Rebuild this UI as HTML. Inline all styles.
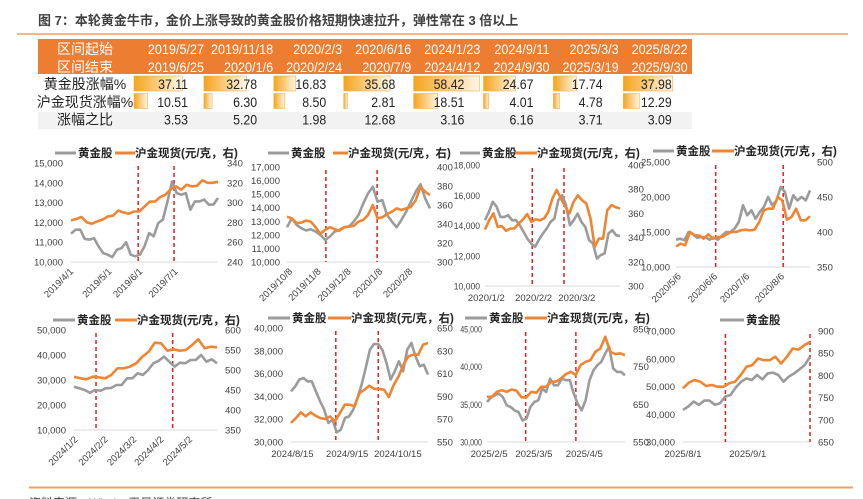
<!DOCTYPE html>
<html><head><meta charset="utf-8">
<style>
html,body{margin:0;padding:0;background:#fff;}
svg{display:block;font-family:"Liberation Sans","Noto Sans CJK SC",sans-serif;}
.tk{font-size:9.5px;fill:#404040;}
.lg{font-size:11.5px;font-weight:bold;fill:#222;}
.tb{font-size:14px;fill:#222;}
.th{font-size:14px;fill:#fff;}
</style></head>
<body>
<svg id="root" width="863" height="499" viewBox="0 0 863 499">
<defs>
<linearGradient id="barg" x1="0" x2="1" y1="0" y2="0">
<stop offset="0" stop-color="#f5a41c"/><stop offset="1" stop-color="#fff7e8"/>
</linearGradient>
</defs>
<text x="38" y="25" font-size="13" font-weight="bold" fill="#404040">图 7：本轮黄金牛市，金价上涨导致的黄金股价格短期快速拉升，弹性常在 3 倍以上</text>
<line x1="17" y1="34" x2="848" y2="34" stroke="#f2a05c" stroke-width="1.5"/>
<g id="table"></g>
<g id="charts"></g>
<line x1="29" y1="487.5" x2="853" y2="487.5" stroke="#f2a05c" stroke-width="2"/>
<text x="29" y="507" font-size="12" fill="#404040">资料来源：Wind，天风证券研究所</text>
</svg>
<script>
// ---------- table data ----------
const tStart = ["2019/5/27","2019/11/18","2020/2/3","2020/6/16","2024/1/23","2024/9/11","2025/3/3","2025/8/22"];
const tEnd = ["2019/6/25","2020/1/6","2020/2/24","2020/7/9","2024/4/12","2024/9/30","2025/3/19","2025/9/30"];
const tStock = [37.11,32.78,16.83,35.68,58.42,24.67,17.74,37.98];
const tGold = [10.51,6.30,8.50,2.81,18.51,4.01,4.78,12.29];
const tRatio = [3.53,5.20,1.98,12.68,3.16,6.16,3.71,3.09];

// ---------- chart data ----------
const c1Gray=[11430,11630,11630,11160,11130,11200,10790,10450,10370,10250,10620,10700,11000,10370,10290,10370,10790,11460,11300,11970,12140,13060,14070,13480,13400,13480,12640,13060,13060,13150,12900,12900,13230];
const c1Gold=[282,283.4,285.5,280,278.7,281,282.8,286,286.8,292,290,288.8,291,291,296,301,301,305.7,308,313.7,316.4,313,318,316.4,317,322.5,320,320,321];
const c1Vlines=[0.457,0.701];
const c1XLabels=["2019/4/1","2019/5/1","2019/6/1","2019/7/1"];
const c1XPos=[0.0,0.26,0.47,0.71];
const c1LeftTicks=[10000,11000,12000,13000,14000,15000];
const c1RightTicks=[240,260,280,300,320,340];

const c2Gray=[12560,13220,12730,12490,12320,12410,12240,12000,11630,11880,12240,12370,12560,12610,12980,13460,14320,15050,15540,14440,14560,13460,12980,12560,13100,13710,14440,15170,15730,14680,13950];
const c2Gold=[347.7,346,340.8,341.5,343.6,342.5,336.6,329.6,333.8,336.6,334.5,333,336.6,337.3,338,342.5,344.3,349.5,360,346,347,350.5,353,356.4,354.7,356.4,358,365,379,373.9,370.4];
const c2Vlines=[0.272,0.63];
const c2XLabels=["2019/10/8","2019/11/8","2019/12/8","2020/1/8","2020/2/8"];
const c2XPos=[0.02,0.22,0.43,0.65,0.86];
const c2LeftTicks=[10000,11000,12000,13000,14000,15000,16000,17000];
const c2RightTicks=[300,320,340,360,380,400];

const c3Gray=[14350,14900,15570,15240,14570,14570,14680,14350,14350,14020,13580,13130,12800,12590,13070,13470,13800,14240,14460,15680,16010,15350,14020,14350,14790,14240,13910,13030,12810,11810,12040,12150,13470,13690,13360,13300];
const c3Gold=[346.7,354.4,360,348.9,349.4,345.6,347.5,347.5,351.7,355,359.4,353,355,354.4,355.8,361.3,372.4,379.3,372.4,365.5,360,369.6,375,371,368.2,355.8,332.3,339.2,339.2,362.7,366.9,365,364.1];
const c3Vlines=[0.35,0.585];
const c3XLabels=["2020/1/2","2020/2/2","2020/3/2"];
const c3XPos=[0.01,0.36,0.68];
const c3LeftTicks=[10000,12000,14000,16000,18000];
const c3RightTicks=[300,320,340,360,380,400];

const c4Gray=[13900,14050,13810,15000,14760,14190,14290,14290,13900,14190,13900,14520,15000,15000,15480,16430,18810,17380,18100,16900,17860,18570,20000,18810,19520,21430,20710,18330,20240,19520,20000,19520,20950];
const c4Gold=[379.5,383.3,381,400,395.2,395.2,390.5,396.7,390.5,392.9,392.9,396.7,400,400,402.4,403.3,402.4,403.3,414.3,431,433.3,433.3,450,445.2,417.6,421.4,433.3,416.7,416.7,422.4];
const c4Vlines=[0.296,0.80];
const c4XLabels=["2020/5/6","2020/6/6","2020/7/6","2020/8/6"];
const c4XPos=[0.02,0.29,0.53,0.79];
const c4LeftTicks=[10000,15000,20000,25000];
const c4RightTicks=[350,400,450,500];

const c5Gray=[27330,26670,26000,24930,26000,25730,26670,26800,28000,28000,30670,30670,32670,32000,34000,36670,37730,39330,37330,35330,36930,36670,38000,38000,40000,37330,38270,36670];
const c5Gold=[483.3,479.2,476.7,483.3,481.7,479.2,487.5,504.2,504.2,508.3,516.7,533.3,545.8,568.3,566.7,548.3,551.7,548.3,550,562.5,576.7,554.2,558.3,556.7];
const c5Vlines=[0.154,0.69];
const c5XLabels=["2024/1/2","2024/2/2","2024/3/2","2024/4/2","2024/5/2"];
const c5XPos=[0.01,0.22,0.42,0.61,0.81];
const c5LeftTicks=[10000,20000,30000,40000,50000];
const c5RightTicks=[350,400,450,500,550,600];

const c6Gray=[34440,34880,35470,35610,35320,35320,34440,33570,32840,31670,31960,30850,31080,32110,32250,32840,33860,35030,36490,38100,38600,38600,38100,36930,35470,36200,37080,36200,38100,38680,37510,36640,36780,35910];
const c6Gold=[566.7,571,576,572.5,576,573.1,571,570.2,572.5,568.1,575.4,582.7,582.7,581.3,593,595.9,599.4,596.5,596.5,595.9,589.5,600.3,607.6,617.8,625.1,626.6,626.6,635.4,636.8];
const c6Vlines=[0.327,0.637];
const c6XLabels=["2024/8/15","2024/9/15","2024/10/15"];
const c6XPos=[0.01,0.41,0.78];
const c6LeftTicks=[30000,32000,34000,36000,38000,40000];
const c6RightTicks=[550,570,590,610,630,650];

const c7Gray=[35310,35890,36200,36420,35980,34870,34640,34200,33980,32870,33090,34640,35310,35530,37090,36640,38420,37530,37530,38420,38200,38200,36420,35090,34200,35530,38200,39530,40200,40640,41760,42640,39760,39310,39310,38870];
const c7Gold=[669.9,669.9,683.2,687.6,683.2,689.4,685.9,668.6,668.6,683.2,680.5,696.5,696.5,710,710,718.7,730.2,736.4,727.5,754.2,763,767.5,789.7,798.5,829.6,789.7,783.5,785.2,780.8];
const c7Vlines=[0.28,0.644];
const c7XLabels=["2025/2/5","2025/3/5","2025/4/5"];
const c7XPos=[0.015,0.34,0.705];
const c7LeftTicks=[30000,35000,40000,45000];
const c7RightTicks=[550,650,750,850];

const c8Gray=[41580,42780,44570,43390,44930,44930,43390,43990,46360,46960,49700,51730,52930,52330,54130,52570,54730,54960,54130,51730,53530,54730,56150,57700,60690];
const c8Gold=[770.9,783.6,789.6,785.8,776.1,778.4,774.6,774.6,782.1,785.8,800.7,819.4,823.1,838.1,834.3,834.3,841.8,826.9,841.8,860.4,858.2,867.9,875.4];
const c8Vlines=[0.334,1.0];
const c8XLabels=["2025/8/1","2025/9/1"];
const c8XPos=[0.0,0.51];
const c8LeftTicks=[30000,40000,50000,60000,70000];
const c8RightTicks=[650,700,750,800,850,900];

const NS="http://www.w3.org/2000/svg";
function mk(tag,attrs,parent){const e=document.createElementNS(NS,tag);for(const k in attrs)e.setAttribute(k,attrs[k]);parent.appendChild(e);return e;}
function fmt(v){return v>=1000?v.toLocaleString("en-US"):String(v);}
function squeeze(t,f){const w=t.getComputedTextLength();if(w>0){t.setAttribute("textLength",(w*f).toFixed(1));t.setAttribute("lengthAdjust","spacingAndGlyphs");}}

// ---------- table ----------
const tbl=document.getElementById("table");
const colX0=134, colW=69.9, txtR0=204, txtStep=69.1;
let hdr=mk("rect",{x:38,y:39,width:654,height:35,fill:"#ed7d31"},tbl);


let r3=mk("rect",{x:38,y:112,width:654,height:17,fill:"#f2f2f2"},tbl);


const rowLabels=[["区间起始",54,"th"],["区间结束",72,"th"],["黄金股涨幅%",89,"tb"],["沪金现货涨幅%",107,"tb"],["涨幅之比",124.5,"tb"]];
rowLabels.forEach(r=>{const t=mk("text",{x:85,y:r[1],"text-anchor":"middle",class:r[2],"font-size":"13.5"},tbl);t.textContent=r[0];

});
function barCell(v,i,y){const w=Math.min(66,Math.max(3,v*1.3));
const b=mk("rect",{x:colX0+i*colW,y:y,width:w,height:15,fill:"url(#barg)",stroke:"#f5b04a","stroke-width":0.6},tbl);

}
for(let i=0;i<8;i++){
  const rx=txtR0+i*txtStep;
  let t=mk("text",{x:rx,y:54,"text-anchor":"end",class:"th"},tbl);t.textContent=tStart[i];
  
  
  squeeze(t,0.9);
  t=mk("text",{x:rx,y:72,"text-anchor":"end",class:"th"},tbl);t.textContent=tEnd[i];
  
  
  squeeze(t,0.9);
  barCell(tStock[i],i,76);barCell(tGold[i],i,93.5);
  const vals=[[tStock[i],89,'stock-gain'],[tGold[i],107,'gold-gain'],[tRatio[i],124.5,'gain-ratio']];
  vals.forEach(v=>{const s=v[0].toFixed(2);
    const tt=mk("text",{x:rx-16,y:v[1],"text-anchor":"end",class:"tb"},tbl);tt.textContent=s;
    
    
    squeeze(tt,0.88);});
}

// ---------- charts ----------
const charts=[
 {gray:c1Gray,gold:c1Gold,vl:c1Vlines,xl:c1XLabels,xp:c1XPos,lt:c1LeftTicks,rt:c1RightTicks,x0:71,x1:218,yT:163,yB:262,lx:63,rx:227,rot:true,leg:[55,78,115,135],ly:153,ls:1},
 {gray:c2Gray,gold:c2Gold,vl:c2Vlines,xl:c2XLabels,xp:c2XPos,lt:c2LeftTicks,rt:c2RightTicks,x0:287,x1:430,yT:167,yB:262,lx:280,rx:437,rot:true,leg:[268,291,333,348],ly:153,ls:1},
 {gray:c3Gray,gold:c3Gold,vl:c3Vlines,xl:c3XLabels,xp:c3XPos,lt:c3LeftTicks,rt:c3RightTicks,x0:485,x1:620,yT:165,yB:286,lx:480,rx:628,rot:false,leg:[460,482,515,537],ly:153,ls:0.9},
 {gray:c4Gray,gold:c4Gold,vl:c4Vlines,xl:c4XLabels,xp:c4XPos,lt:c4LeftTicks,rt:c4RightTicks,x0:676,x1:810,yT:162,yB:267,lx:670,rx:817,rot:true,leg:[653,676,712,734],ly:151,ls:1},
 {gray:c5Gray,gold:c5Gold,vl:c5Vlines,xl:c5XLabels,xp:c5XPos,lt:c5LeftTicks,rt:c5RightTicks,x0:74,x1:217,yT:330,yB:430,lx:66,rx:225,rot:true,leg:[53,77,115,137],ly:320,ls:1},
 {gray:c6Gray,gold:c6Gold,vl:c6Vlines,xl:c6XLabels,xp:c6XPos,lt:c6LeftTicks,rt:c6RightTicks,x0:291,x1:428,yT:328,yB:442,lx:283,rx:437,rot:false,leg:[268,292,328,351],ly:318,ls:1},
 {gray:c7Gray,gold:c7Gold,vl:c7Vlines,xl:c7XLabels,xp:c7XPos,lt:c7LeftTicks,rt:c7RightTicks,x0:487,x1:625,yT:329,yB:442,lx:482,rx:633,rot:false,leg:[465,489,525,547],ly:318,ls:0.75},
 {gray:c8Gray,gold:c8Gold,vl:c8Vlines,xl:c8XLabels,xp:c8XPos,lt:c8LeftTicks,rt:c8RightTicks,x0:683,x1:810,yT:331,yB:442,lx:675,rx:818,rot:false,leg:[720,746,null,null],ly:320,ls:1}
];
const root=document.getElementById("charts");
charts.forEach((c,ci)=>{
  const g=mk("g",{},root);
  
  
  const lmin=c.lt[0],lmax=c.lt[c.lt.length-1],rmin=c.rt[0],rmax=c.rt[c.rt.length-1];
  const yL=v=>c.yB-(v-lmin)/(lmax-lmin)*(c.yB-c.yT);
  const yR=v=>c.yB-(v-rmin)/(rmax-rmin)*(c.yB-c.yT);
  const xF=f=>c.x0+f*(c.x1-c.x0);
  const xI=(i,n)=>xF(i/(n-1));
  let ax=mk("line",{x1:c.x0,x2:c.x1,y1:c.yB,y2:c.yB,stroke:"#d9d9d9","stroke-width":1},g);
  
  
  c.lt.forEach(v=>{const t=mk("text",{x:c.lx,y:yL(v)+3.5,"text-anchor":"end",class:"tk"},g);t.textContent=fmt(v);
    
    
    if(c.ls<1)squeeze(t,c.ls);});
  c.rt.forEach(v=>{const t=mk("text",{x:c.rx,y:yR(v)+3.5,class:"tk"},g);t.textContent=fmt(v);
    
    });
  c.xl.forEach((s,i)=>{const x=xF(c.xp[i]);let t;
    if(c.rot){t=mk("text",{x:x+3,y:c.yB+10,"text-anchor":"end",class:"tk",transform:`rotate(-45 ${x+3} ${c.yB+10})`},g);}
    else{t=mk("text",{x:x,y:c.yB+15,"text-anchor":"middle",class:"tk"},g);}
    t.textContent=s;
    
    });
  c.vl.forEach(f=>{const x=xF(f);const l=mk("line",{x1:x,x2:x,y1:c.yT+3,y2:c.yB,stroke:"#e0201c","stroke-width":1.5,"stroke-dasharray":"4,3"},g);
    
    });
  const pg=c.gray.map((v,i)=>xI(i,c.gray.length).toFixed(1)+","+yL(v).toFixed(1)).join(" ");
  const pgl=mk("polyline",{points:pg,fill:"none",stroke:"#9b9b9b","stroke-width":2.6,"stroke-linejoin":"round"},g);
  
  
  const po=c.gold.map((v,i)=>xI(i,c.gold.length).toFixed(1)+","+yR(v).toFixed(1)).join(" ");
  const pol=mk("polyline",{points:po,fill:"none",stroke:"#ef8533","stroke-width":2.6,"stroke-linejoin":"round"},g);
  
  
  const L=c.leg;
  let ln=mk("line",{x1:L[0],x2:L[1]-2,y1:c.ly,y2:c.ly,stroke:"#9b9b9b","stroke-width":3},g);
  
  
  let tx=mk("text",{x:L[1],y:c.ly+4,class:"lg"},g);tx.textContent="黄金股";
  
  
  if(L[2]!==null){
    ln=mk("line",{x1:L[2],x2:L[3],y1:c.ly,y2:c.ly,stroke:"#ef8533","stroke-width":3},g);
    
    
    tx=mk("text",{x:L[3],y:c.ly+4,class:"lg"},g);tx.textContent="沪金现货(元/克，右)";
    
    
  }
});
</script>
</body></html>
